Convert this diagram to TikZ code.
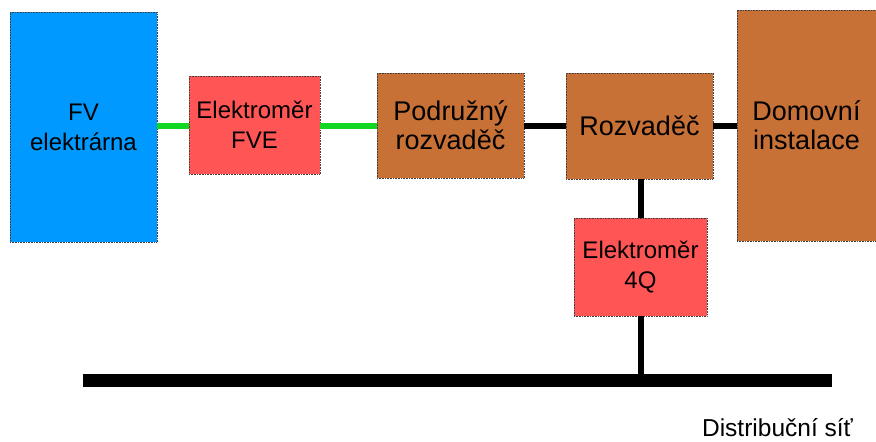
\documentclass[tikz,border=0pt]{standalone}
\usepackage{fontspec}
\setmainfont{Liberation Sans}
\definecolor{pvblue}{RGB}{0,153,255}
\definecolor{meterred}{RGB}{255,85,85}
\definecolor{boardbrown}{RGB}{200,113,55}
\definecolor{dcgreen}{RGB}{17,214,34}
\tikzset{
  unit/.style={draw=black!75, densely dotted, line width=0.6pt, align=center,
               inner sep=0pt, text=black},
  smalltext/.style={font=\fontsize{24}{30}\selectfont},
  bigtext/.style={font=\fontsize{27}{29}\selectfont},
  greenwire/.style={draw=dcgreen, line width=6pt},
  blackwire/.style={draw=black, line width=6pt},
}
\begin{document}
\begin{tikzpicture}[x=1pt, y=-1pt]
\useasboundingbox (0,0) rectangle (876,442);

% blocks
\node[unit, smalltext, fill=pvblue, minimum width=147pt, minimum height=230pt]
  (fv) at (83.5,127) {FV\\elektrárna};
\node[unit, smalltext, fill=meterred, minimum width=131pt, minimum height=98pt]
  (fve) at (254.5,125) {Elektroměr\\FVE};
\node[unit, bigtext, fill=boardbrown, minimum width=147pt, minimum height=105pt]
  (pod) at (450.5,125.5) {Podružný\\rozvaděč};
\node[unit, bigtext, fill=boardbrown, minimum width=147pt, minimum height=106pt]
  (roz) at (639.5,126) {Rozvaděč};
\node[unit, bigtext, fill=boardbrown, minimum width=139pt, minimum height=231pt]
  (dom) at (806.5,125.5) {Domovní\\instalace};
\node[unit, smalltext, fill=meterred, minimum width=133pt, minimum height=98pt]
  (q4) at (640.5,267) {Elektroměr\\4Q};

% distribution grid bus
\coordinate (busL) at (83,380.5);
\coordinate (busR) at (832,380.5);
\draw[black, line width=13pt] (busL) -- (busR);
\node[font=\fontsize{24.5}{26}\selectfont, anchor=base, inner sep=0pt]
  (grid) at (777.5,436.5) {Distribuční síť};

% connections
\draw[greenwire] (fv.east |- 0,126) -- (fve.west |- 0,126);
\draw[greenwire] (fve.east |- pod.west) -- (pod.west);
\draw[blackwire] (pod.east) -- (roz.west |- pod.east);
\draw[blackwire] (roz.east) -- (dom.west |- roz.east);
\draw[blackwire] (roz.south -| q4.north) -- (q4.north);
\draw[blackwire] (q4.south) -- (q4.south |- busL);
\end{tikzpicture}
\end{document}
